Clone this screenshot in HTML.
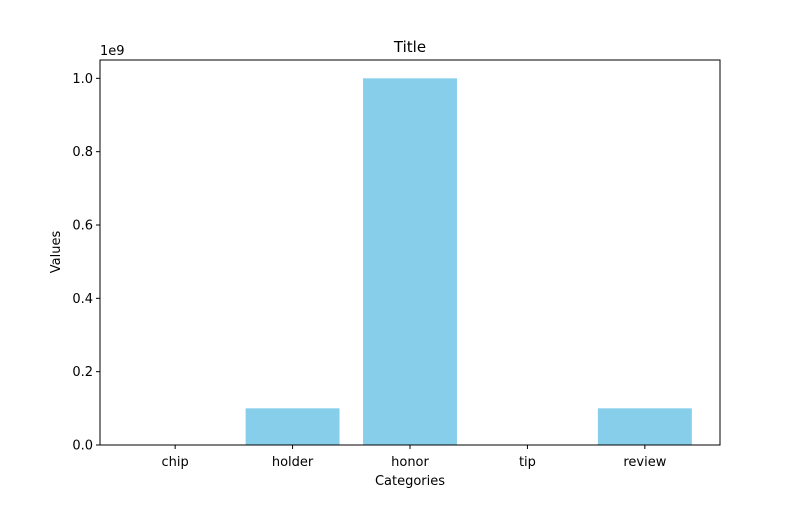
<!DOCTYPE html>
<html><head><meta charset="utf-8"><style>
body{margin:0;background:#fff;font-family:"Liberation Sans","DejaVu Sans",sans-serif}
svg text{font-family:"DejaVu Sans","Liberation Sans",sans-serif;font-size:13px;fill:#000}
</style></head><body>
<svg id="chart" width="800" height="500">
<rect width="800" height="500" fill="#fff"/>
<g id="marks"></g>
<g id="axes"></g>
<rect x="100" y="60" width="620" height="385" fill="none" stroke="#000" stroke-width="1"/>
<text x="410" y="52" text-anchor="middle" style="font-size:15px">Title</text>
<text x="410" y="485" text-anchor="middle">Categories</text>
<text transform="translate(60,252) rotate(-90)" text-anchor="middle">Values</text>
<text x="100" y="55">1e9</text>
</svg>
<script>
const categories=["chip","holder","honor","tip","review"];
const values=[0,100000000,1000000000,0,100000000];
const yTicks=[0,0.2e9,0.4e9,0.6e9,0.8e9,1.0e9];
const yTickLabels=["0.0","0.2","0.4","0.6","0.8","1.0"];
const ns="http://www.w3.org/2000/svg";
const x0=100,x1=720,yTop=60,yBot=445,yMax=1.05e9,xMin=-0.64,xMax=4.64;
const xs=v=>x0+(v-xMin)/(xMax-xMin)*(x1-x0);
const ys=v=>yBot-v/yMax*(yBot-yTop);
const marks=document.getElementById('marks'),axes=document.getElementById('axes');
function mk(t,a,p){const e=document.createElementNS(ns,t);for(const k in a)e.setAttribute(k,a[k]);p.appendChild(e);return e;}
categories.forEach((c,i)=>{
 const w=xs(0.4)-xs(-0.4);
 const r=mk('rect',{x:xs(i)-w/2,y:ys(values[i]),width:w,height:ys(0)-ys(values[i]),fill:'#87ceeb'},marks);
 
 
 const t=mk('line',{x1:xs(i),x2:xs(i),y1:yBot,y2:yBot+4,stroke:'#000'},axes);
 
 
 const l=mk('text',{x:xs(i),y:yBot+21,'text-anchor':'middle'},axes);l.textContent=c;
 
 
});
yTicks.forEach((v,i)=>{
 const t=mk('line',{x1:x0-4,x2:x0,y1:ys(v),y2:ys(v),stroke:'#000'},axes);
 
 
 const l=mk('text',{x:x0-7,y:ys(v)+4.5,'text-anchor':'end'},axes);l.textContent=yTickLabels[i];
 
 
});
</script>
</body></html>
